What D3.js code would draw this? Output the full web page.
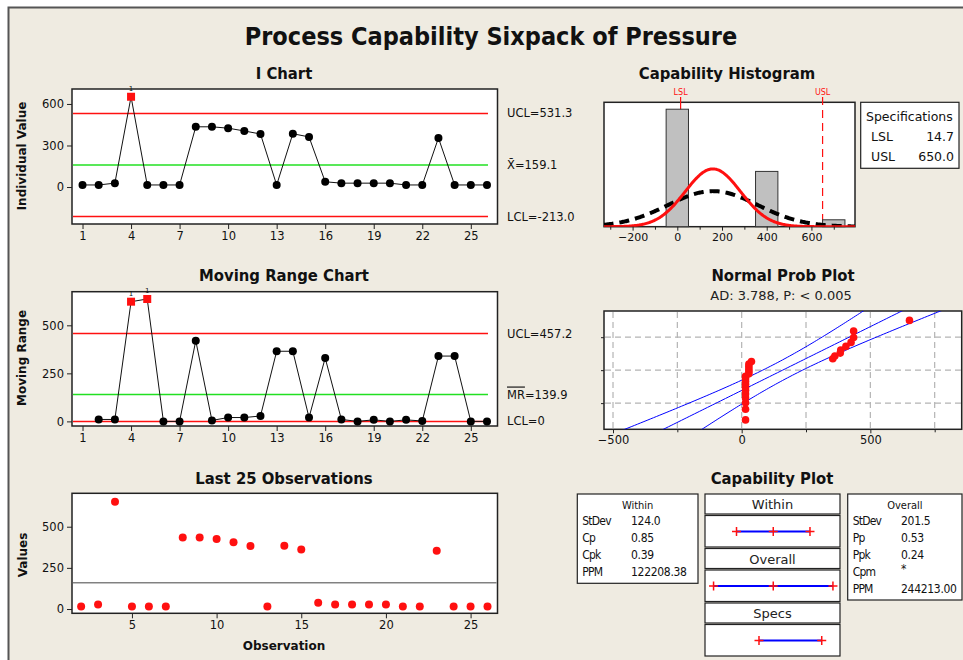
<!DOCTYPE html>
<html>
<head>
<meta charset="utf-8">
<script src="https://cdn.jsdelivr.net/npm/d3@7"></script>
<style>
  body { margin: 0; background: #fff; }
  text { font-family: 'DejaVu Sans', sans-serif; }
</style>
</head>
<body>
<script>
var observations = [15, 15, 28, 652, 15, 15, 15, 435, 435, 425, 405, 383, 15, 385, 362, 38, 28, 28, 28, 28, 15, 15, 354, 15, 15, 15];
var movingRanges = [10, 10, 623, 637, 0, 0, 420, 5, 20, 20, 28, 365, 365, 20, 330, 10, 0, 8, 0, 8, 2, 340, 340, 0, 0]; // obs 2..26
var iLimits = [531.3, 159.1, -213.0];   // UCL, mean, LCL
var mrLimits = [457.2, 139.9, 0];
var iOutliers = [4];
var mrOutliers = [4, 5];
var obsTicks = [1, 4, 7, 10, 13, 16, 19, 22, 25];
var last25Ticks = [5, 10, 15, 20, 25];
var histBinStart = [-50, 350, 650];
var histCounts = [17, 8, 1];
var histBinWidth = 100;
var specLimits = [14.7, 650.0];         // LSL, USL
var processMean = 159.1;
var stdevs = [124.0, 201.5];            // within, overall
var withinLabels = ['StDev', 'Cp', 'Cpk', 'PPM'];
var withinValues = ['124.0', '0.85', '0.39', '122208.38'];
var overallLabels = ['StDev', 'Pp', 'Ppk', 'Cpm', 'PPM'];
var overallValues = ['201.5', '0.53', '0.24', '*', '244213.00'];
var adText = 'AD: 3.788, P: < 0.005';

var W = 963, H = 660;
var RED = '#ff1010', GREEN = '#22e022', BLUE = '#0000ff';
var COND = "'DejaVu Sans Condensed', 'DejaVu Sans', sans-serif";

var svg = d3.select('body').append('svg').attr('width', W).attr('height', H);

svg.append('rect').attr('width', W).attr('height', H).attr('fill', '#fff');
svg.append('rect').attr('x', 8).attr('y', 7).attr('width', W - 8).attr('height', H - 7).attr('fill', '#efebe1');
svg.append('path').attr('d', 'M8.5,' + H + 'V7.5H' + W).attr('fill', 'none').attr('stroke', '#555').attr('stroke-width', 2);

function box(x0, y0, x1, y1) {
    return svg.append('rect')
        .attr('x', x0).attr('y', y0)
        .attr('width', x1 - x0).attr('height', y1 - y0)
        .attr('fill', '#fff').attr('stroke', '#222').attr('stroke-width', 1.5);
}

function axis(gen, tx, ty, fs) {
    var g = svg.append('g').attr('transform', 'translate(' + tx + ',' + ty + ')').call(gen);
    g.select('.domain').remove();
    g.selectAll('text').attr('font-size', fs || 11.5).attr('fill', '#111');
    g.selectAll('line').attr('stroke', '#222');
    return g;
}

function title(txt, x, y, size) {
    return svg.append('text').attr('x', x).attr('y', y)
        .attr('text-anchor', 'middle').attr('dominant-baseline', 'central')
        .style('font-family', COND).style('font-stretch', 'condensed')
        .attr('font-weight', 'bold').attr('font-size', size || 16.5).attr('fill', '#111')
        .text(txt);
}

function yLabel(txt, x, y) {
    svg.append('text').attr('transform', 'translate(' + x + ',' + y + ') rotate(-90)')
        .attr('text-anchor', 'middle').attr('dominant-baseline', 'central')
        .attr('font-weight', 'bold').attr('font-size', 12).attr('fill', '#111')
        .text(txt);
}

title('Process Capability Sixpack of Pressure', 491, 36, 25);

// ---------- I chart ----------
var ix = d3.scaleLinear().domain([0.35, 26.65]).range([72, 497.5]);
var iy = d3.scaleLinear().domain([-267, 708]).range([224, 89]);

title('I Chart', 284, 73);
box(72, 89, 497.5, 224);
axis(d3.axisLeft(iy).tickValues([0, 300, 600]).tickSize(5).tickPadding(3), 72, 0);
axis(d3.axisBottom(ix).tickValues(obsTicks).tickSize(5).tickPadding(3), 0, 224);
yLabel('Individual Value', 22, 156);

function limitLines(xs, ys, lims) {
    lims.forEach(function (v, i) {
        svg.append('line')
            .attr('x1', xs.range()[0] + 1).attr('x2', xs(26) + 1)
            .attr('y1', ys(v)).attr('y2', ys(v))
            .attr('stroke', i === 1 ? GREEN : RED).attr('stroke-width', 1.5);
    });
}

function series(xs, ys, vals, first, outliers) {
    var pts = vals.map(function (v, i) { return { n: i + first, v: v }; });
    svg.append('path').datum(pts)
        .attr('d', d3.line().x(function (d) { return xs(d.n); }).y(function (d) { return ys(d.v); }))
        .attr('fill', 'none').attr('stroke', '#111').attr('stroke-width', 1);
    svg.selectAll(null).data(pts.filter(function (d) { return outliers.indexOf(d.n) < 0; }))
        .enter().append('circle')
        .attr('cx', function (d) { return xs(d.n); })
        .attr('cy', function (d) { return ys(d.v); })
        .attr('r', 4).attr('fill', '#000');
    var bad = pts.filter(function (d) { return outliers.indexOf(d.n) >= 0; });
    svg.selectAll(null).data(bad).enter().append('rect')
        .attr('x', function (d) { return xs(d.n) - 4; })
        .attr('y', function (d) { return ys(d.v) - 4; })
        .attr('width', 8).attr('height', 8).attr('fill', RED);
    svg.selectAll(null).data(bad).enter().append('text')
        .attr('x', function (d) { return xs(d.n); })
        .attr('y', function (d) { return ys(d.v) - 6; })
        .attr('text-anchor', 'middle').attr('font-size', 7).attr('fill', '#111')
        .text('1');
}

limitLines(ix, iy, iLimits);
series(ix, iy, observations, 1, iOutliers);

function rightLabel(txt, y) {
    return svg.append('text').attr('x', 507).attr('y', y)
        .attr('dominant-baseline', 'central').attr('font-size', 11.5).attr('fill', '#111').text(txt);
}
rightLabel('UCL=' + iLimits[0].toFixed(1), iy(iLimits[0]));
rightLabel('X\u0304=' + iLimits[1].toFixed(1), iy(iLimits[1]));
rightLabel('LCL=' + iLimits[2].toFixed(1), iy(iLimits[2]));

// ---------- Moving range chart ----------
var my = d3.scaleLinear().domain([-24, 675]).range([426, 291.7]);

title('Moving Range Chart', 284, 275);
box(72, 291.7, 497.5, 426);
axis(d3.axisLeft(my).tickValues([0, 250, 500]).tickSize(5).tickPadding(3), 72, 0);
axis(d3.axisBottom(ix).tickValues(obsTicks).tickSize(5).tickPadding(3), 0, 426);
yLabel('Moving Range', 22, 358);

limitLines(ix, my, mrLimits);
series(ix, my, movingRanges, 2, mrOutliers);

rightLabel('UCL=' + mrLimits[0].toFixed(1), my(mrLimits[0]));
var mrl = rightLabel('', my(mrLimits[1]));
mrl.append('tspan').style('text-decoration', 'overline').text('MR');
mrl.append('tspan').text('=' + mrLimits[1].toFixed(1));
rightLabel('LCL=' + mrLimits[2], my(mrLimits[2]));

// ---------- Last 25 observations ----------
var lx = d3.scaleLinear().domain([1.46, 26.59]).range([72, 497.5]);
var ly = d3.scaleLinear().domain([-26, 703]).range([613.3, 493.3]);

title('Last 25 Observations', 284, 478);
box(72, 493.3, 497.5, 613.3);
axis(d3.axisLeft(ly).tickValues([0, 250, 500]).tickSize(5).tickPadding(3), 72, 0);
axis(d3.axisBottom(lx).tickValues(last25Ticks).tickSize(5).tickPadding(3), 0, 613.3);
yLabel('Values', 23, 555);
svg.append('text').attr('x', 284).attr('y', 646).attr('text-anchor', 'middle')
    .attr('dominant-baseline', 'central').attr('font-weight', 'bold').attr('font-size', 12)
    .attr('fill', '#111').text('Observation');

svg.append('line').attr('x1', 73).attr('x2', 496.5)
    .attr('y1', ly(processMean)).attr('y2', ly(processMean))
    .attr('stroke', '#444').attr('stroke-width', 1);

svg.selectAll(null).data(observations.slice(1)).enter().append('circle')
    .attr('cx', function (d, i) { return lx(i + 2); })
    .attr('cy', function (d) { return ly(d); })
    .attr('r', 4).attr('fill', RED);

// ---------- Capability histogram ----------
var hx = d3.scaleLinear().domain([-328, 795]).range([604, 855]);
var hy = d3.scaleLinear().domain([0, 18]).range([226.7, 102.3]);

title('Capability Histogram', 727, 73);
box(604, 102.3, 855, 226.7);

svg.append('clipPath').attr('id', 'histClip').append('rect')
    .attr('x', 604).attr('y', 102.3).attr('width', 251).attr('height', 124.4);
svg.append('clipPath').attr('id', 'probClip').append('rect')
    .attr('x', 604).attr('y', 311).attr('width', 357.7).attr('height', 118.3);

// spec limit lines
svg.append('line').attr('x1', hx(specLimits[0])).attr('x2', hx(specLimits[0]))
    .attr('y1', 97).attr('y2', 226.7).attr('stroke', RED).attr('stroke-width', 1.2);
svg.append('line').attr('x1', hx(specLimits[1])).attr('x2', hx(specLimits[1]))
    .attr('y1', 97).attr('y2', 226.7).attr('stroke', RED).attr('stroke-width', 1.2)
    .attr('stroke-dasharray', '8,5');
['LSL', 'USL'].forEach(function (t, i) {
    svg.append('text').attr('x', hx(specLimits[i])).attr('y', 92.5)
        .attr('text-anchor', 'middle').attr('dominant-baseline', 'central')
        .attr('font-size', 8).attr('fill', RED).text(t);
});

svg.selectAll(null).data(histCounts).enter().append('rect')
    .attr('x', function (d, i) { return hx(histBinStart[i]); })
    .attr('y', function (d) { return hy(d); })
    .attr('width', function (d, i) { return hx(histBinStart[i] + histBinWidth) - hx(histBinStart[i]); })
    .attr('height', function (d) { return hy(0) - hy(d); })
    .attr('fill', '#c0c0c0').attr('stroke', '#333').attr('stroke-width', 1);

function normalCurve(sd) {
    var n = observations.length;
    var k = n * histBinWidth / (sd * Math.sqrt(2 * Math.PI));
    return d3.range(-330, 800, 4).map(function (x) {
        return [x, k * Math.exp(-(x - processMean) * (x - processMean) / (2 * sd * sd))];
    });
}
var curveLine = d3.line().x(function (d) { return hx(d[0]); }).y(function (d) { return hy(d[1]); });
svg.append('path').datum(normalCurve(stdevs[1])).attr('clip-path', 'url(#histClip)')
    .attr('d', curveLine).attr('fill', 'none').attr('stroke', '#000')
    .attr('stroke-width', 4).attr('stroke-dasharray', '10,6');
svg.append('path').datum(normalCurve(stdevs[0])).attr('clip-path', 'url(#histClip)')
    .attr('d', curveLine).attr('fill', 'none').attr('stroke', RED).attr('stroke-width', 3);

axis(d3.axisBottom(hx).tickValues([-200, 0, 200, 400, 600]).tickSize(4).tickPadding(3), 0, 226.7, 11);
axis(d3.axisBottom(hx).tickValues([-300, -100, 100, 300, 500, 700]).tickSize(3).tickFormat(''), 0, 226.7);

// specifications legend
box(860.7, 102.3, 959, 168.3).attr('stroke-width', 1.2);
svg.append('text').attr('x', 866).attr('y', 116).attr('dominant-baseline', 'central')
    .attr('font-size', 12.5).attr('fill', '#111').text('Specifications');
['LSL', 'USL'].forEach(function (t, i) {
    var yy = 136.5 + i * 20;
    svg.append('text').attr('x', 871).attr('y', yy).attr('dominant-baseline', 'central')
        .attr('font-size', 12.5).attr('fill', '#111').text(t);
    svg.append('text').attr('x', 954).attr('y', yy).attr('dominant-baseline', 'central')
        .attr('text-anchor', 'end').attr('font-size', 12.5).attr('fill', '#111')
        .text(specLimits[i].toFixed(1));
});

// ---------- Normal probability plot ----------
function qnorm(p) {
    var a = [-39.69683028665376, 220.9460984245205, -275.9285104469687, 138.3577518672690, -30.66479806614716, 2.506628277459239];
    var b = [-54.47609879822406, 161.5858368580409, -155.6989798598866, 66.80131188771972, -13.28068155288572];
    var c = [-0.007784894002430293, -0.3223964580411365, -2.400758277161838, -2.549732539343734, 4.374664141464968, 2.938163982698783];
    var d = [0.007784695709041462, 0.3224671290700398, 2.445134137142996, 3.754408661907416];
    var q, r;
    if (p < 0.02425) {
        q = Math.sqrt(-2 * Math.log(p));
        return (((((c[0] * q + c[1]) * q + c[2]) * q + c[3]) * q + c[4]) * q + c[5]) / ((((d[0] * q + d[1]) * q + d[2]) * q + d[3]) * q + 1);
    }
    if (p > 1 - 0.02425) return -qnorm(1 - p);
    q = p - 0.5; r = q * q;
    return (((((a[0] * r + a[1]) * r + a[2]) * r + a[3]) * r + a[4]) * r + a[5]) * q / (((((b[0] * r + b[1]) * r + b[2]) * r + b[3]) * r + b[4]) * r + 1);
}

var px = d3.scaleLinear().domain([-535, 855]).range([604, 961.7]);
var py = d3.scaleLinear().domain([-2.3, 2.3]).range([429.3, 311]);

title('Normal Prob Plot', 783, 275);
svg.append('text').attr('x', 781).attr('y', 295).attr('text-anchor', 'middle')
    .attr('dominant-baseline', 'central').attr('font-size', 13).attr('fill', '#222').text(adText);
box(604, 311, 961.7, 429.3);

var gridX = [-500, -250, 0, 250, 500, 750];
var gridZ = [-1.2816, 0, 1.2816];
svg.selectAll(null).data(gridX).enter().append('line')
    .attr('x1', function (d) { return px(d); }).attr('x2', function (d) { return px(d); })
    .attr('y1', 312).attr('y2', 428.5)
    .attr('stroke', '#b4b4b4').attr('stroke-width', 1.2).attr('stroke-dasharray', '6,4');
svg.selectAll(null).data(gridZ).enter().append('line')
    .attr('x1', 605).attr('x2', 961)
    .attr('y1', function (d) { return py(d); }).attr('y2', function (d) { return py(d); })
    .attr('stroke', '#b4b4b4').attr('stroke-width', 1.2).attr('stroke-dasharray', '6,4');

var nObs = observations.length;
var zs = d3.range(-2.4, 2.41, 0.05);
function band(sign) {
    return zs.map(function (z) {
        var half = 1.96 * stdevs[1] * Math.sqrt(1 / nObs + z * z / (2 * (nObs - 1)));
        return [processMean + stdevs[1] * z + sign * half, z];
    });
}
var probLine = d3.line().x(function (d) { return px(d[0]); }).y(function (d) { return py(d[1]); });
[-1, 0, 1].forEach(function (s) {
    svg.append('path').datum(band(s)).attr('clip-path', 'url(#probClip)')
        .attr('d', probLine).attr('fill', 'none').attr('stroke', BLUE).attr('stroke-width', 1);
});

var sorted = observations.slice().sort(d3.ascending);
svg.selectAll(null).data(sorted).enter().append('circle')
    .attr('cx', function (d) { return px(d); })
    .attr('cy', function (d, i) { return py(qnorm((i + 1 - 0.3) / (nObs + 0.4))); })
    .attr('r', 3.8).attr('fill', RED);

axis(d3.axisBottom(px).tickValues([-500, 0, 500]).tickSize(4).tickPadding(3), 0, 429.3, 11.5);
axis(d3.axisBottom(px).tickValues([-250, 250, 750]).tickSize(3).tickFormat(''), 0, 429.3);
axis(d3.axisLeft(py).tickValues(gridZ).tickSize(3).tickFormat(''), 604, 0);

// ---------- Capability plot ----------
title('Capability Plot', 772, 478);

function statBox(x0, y0, x1, y1, head, labels, values, vx) {
    box(x0, y0, x1, y1).attr('stroke-width', 1.2);
    svg.append('text').attr('x', (x0 + x1) / 2).attr('y', y0 + 11).attr('text-anchor', 'middle')
        .attr('dominant-baseline', 'central').style('font-family', COND).style('font-stretch', 'condensed')
        .attr('font-size', 11).attr('fill', '#111').text(head);
    labels.forEach(function (t, i) {
        var yy = y0 + 27 + i * 17;
        svg.append('text').attr('x', x0 + 5).attr('y', yy).attr('dominant-baseline', 'central')
            .style('font-family', COND).style('font-stretch', 'condensed').style('letter-spacing', '-0.8px')
            .attr('font-size', 12).attr('fill', '#111').text(t);
        svg.append('text').attr('x', vx).attr('y', values[i] === '*' ? yy - 3 : yy)
            .attr('dominant-baseline', 'central')
            .style('font-family', COND).style('font-stretch', 'condensed').style('letter-spacing', '-0.3px')
            .attr('font-size', 12).attr('fill', '#111').text(values[i]);
    });
}
statBox(577.3, 494, 698, 583.3, 'Within', withinLabels, withinValues, 631);
statBox(847.7, 494, 962, 600, 'Overall', overallLabels, overallValues, 901);

var cx = d3.scaleLinear().domain([-532, 835]).range([705, 840]);
var capRows = [
    { head: 'Within', top: 494, pts: [processMean - 3 * stdevs[0], processMean, processMean + 3 * stdevs[0]] },
    { head: 'Overall', top: 548.5, pts: [processMean - 3 * stdevs[1], processMean, processMean + 3 * stdevs[1]] },
    { head: 'Specs', top: 603, pts: specLimits }
];
capRows.forEach(function (r) {
    box(705, r.top, 840, r.top + 20).attr('stroke-width', 1.2);
    svg.append('text').attr('x', 772.5).attr('y', r.top + 10.5).attr('text-anchor', 'middle')
        .attr('dominant-baseline', 'central').attr('font-size', 13).attr('fill', '#222').text(r.head);
    box(705, r.top + 21.5, 840, r.top + 53).attr('stroke-width', 1.2);
    var yy = r.top + 37.5;
    var lo = d3.min(r.pts), hi = d3.max(r.pts);
    svg.append('line').attr('x1', cx(lo)).attr('x2', cx(hi)).attr('y1', yy).attr('y2', yy)
        .attr('stroke', BLUE).attr('stroke-width', 2);
    r.pts.forEach(function (v) {
        svg.append('path')
            .attr('d', 'M' + (cx(v) - 4.5) + ',' + yy + 'h9M' + cx(v) + ',' + (yy - 4.5) + 'v9')
            .attr('stroke', RED).attr('stroke-width', 1.5);
    });
});
</script>
</body>
</html>
